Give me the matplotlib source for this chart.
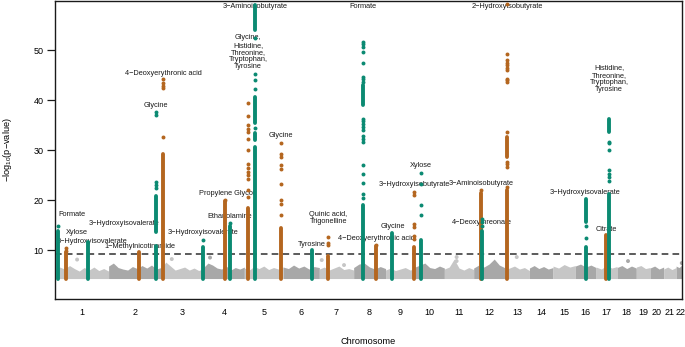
import numpy as np
import matplotlib.pyplot as plt

plt.rcParams['font.family'] = ['Liberation Sans', 'DejaVu Sans']
plt.rcParams['mathtext.default'] = 'regular'

chr_names = [str(i) for i in range(1, 23)]
chr_len = [246, 240, 194, 187, 178, 165, 157, 146, 135, 134, 134, 141,
           114, 108, 102, 95, 96, 88, 63, 62, 57, 40]

threshold = 9.2
band_floor = 4.3

# upper edge of the dense grey cloud, per chromosome
band_top = [
    [6.0, 6.6, 6.2, 6.9, 6.3, 5.8, 6.5, 6.0, 6.6, 5.9, 6.3, 5.8],
    [6.8, 7.4, 6.5, 6.2, 6.0, 6.7, 6.3, 6.9, 6.4, 7.0, 6.2, 6.5],
    [6.2, 7.6, 6.8, 6.0, 6.3, 6.6, 6.0, 6.4, 5.9, 6.3],
    [6.5, 7.4, 7.0, 6.4, 6.2, 6.8, 6.0, 6.5, 6.2, 6.6],
    [6.4, 6.0, 6.7, 6.3, 6.8, 6.1, 6.5, 6.2, 6.6],
    [6.6, 6.3, 7.0, 6.4, 6.8, 6.2, 6.7, 6.5],
    [6.2, 6.6, 6.0, 6.4, 6.8, 6.1, 6.3, 6.0],
    [6.5, 7.2, 7.4, 6.6, 6.2, 6.7, 6.3],
    [6.0, 6.4, 5.9, 6.2, 6.5, 6.0, 6.3],
    [6.6, 7.0, 7.4, 6.5, 6.3, 6.8, 6.4],
    [6.2, 6.6, 8.2, 6.4, 6.0, 6.5, 6.1],
    [6.4, 7.0, 6.6, 7.2, 8.2, 7.0, 6.5],
    [6.0, 6.4, 6.8, 6.2, 6.5, 5.9],
    [6.4, 6.9, 6.3, 6.7, 6.2, 6.5],
    [6.8, 6.4, 7.1, 6.6, 6.9],
    [6.8, 7.2, 6.6, 7.0, 6.5],
    [6.6, 6.2, 6.9, 6.4, 6.7],
    [6.5, 6.9, 6.3, 6.8, 6.4],
    [6.6, 6.9, 6.3, 6.5],
    [6.4, 6.8, 6.2, 6.6],
    [6.2, 6.6, 6.1, 6.5],
    [6.8, 6.5, 7.0, 6.6],
]

# isolated grey points above the cloud
bg_chrom = [1, 3, 4, 7, 7, 11, 11, 13, 18, 22]
bg_pos = [102, 49, 30, 11, 113, 56, 56, 56, 50, 26]
bg_val = [8.1, 8.2, 8.5, 8.0, 7.0, 8.6, 7.8, 8.6, 7.8, 7.4]

# significant loci: dense runs (lo, hi) and single dots
hit_chrom = [1, 1, 1, 2, 2, 3, 3, 4, 4, 5, 5, 5, 6, 7, 8, 8, 9, 9, 10, 12, 12, 13, 16, 17, 17]
hit_pos = [13, 51, 153, 140, 217, 8, 191, 100, 121, 17, 49, 166, 130, 41, 43, 101,
           31, 132, 27, 34, 37, 13, 49, 45, 61]
hit_runs = [
    [(4.3, 13.8)],
    [(4.3, 9.6)],
    [(4.3, 11.6)],
    [(4.3, 9.6)],
    [(4.3, 10.8), (13.6, 20.8)],
    [(4.3, 29.3)],
    [(4.3, 10.6)],
    [(4.3, 19.8)],
    [(4.3, 14.8)],
    [(4.3, 18.4)],
    [(4.3, 30.6), (32.0, 33.4), (35.4, 40.6), (54.0, 59.0)],
    [(4.3, 14.4)],
    [(4.3, 10.1)],
    [(4.3, 8.9)],
    [(4.3, 19.0), (39.0, 43.0)],
    [(4.3, 10.9)],
    [(4.3, 13.5)],
    [(4.3, 10.7)],
    [(4.3, 12.1)],
    [(4.3, 21.4)],
    [(4.3, 13.8)],
    [(4.3, 22.0), (28.6, 32.6)],
    [(4.3, 10.7), (15.7, 20.2)],
    [(4.3, 13.0)],
    [(4.3, 21.3), (33.6, 36.3)],
]
hit_dots = [
    [14.9],
    [9.9, 10.4],
    [],
    [],
    [22.4, 23.0, 23.6, 37.0, 37.6],
    [32.6, 42.4, 42.9, 43.4, 44.2],
    [12.1],
    [20.1],
    [15.5],
    [20.7, 22.0, 24.3, 25.0, 25.7, 26.5, 27.3, 30.1, 32.3, 33.6, 34.3, 35.0, 36.8, 39.5],
    [34.4, 42.2, 44.0, 45.2, 52.5],
    [17.0, 19.3, 20.0, 23.3, 26.3, 27.0, 28.7, 29.3, 31.5],
    [],
    [11.0, 11.5, 12.7],
    [20.4, 21.2, 23.5, 25.2, 27.1, 31.7, 32.2, 32.8, 34.0, 34.6, 35.2, 35.8, 36.2,
     43.7, 44.2, 44.7, 47.5, 49.7, 50.7, 51.2, 51.7],
    [11.1],
    [],
    [12.2, 12.8, 14.7, 15.3, 21.1, 21.7],
    [17.1, 19.0, 23.2, 25.5],
    [22.0],
    [14.8, 15.6, 16.3],
    [22.7, 26.7, 27.2, 27.7, 33.7, 43.7, 44.0, 44.3, 46.0, 46.5, 47.0, 47.5, 48.0, 49.3, 59.2],
    [12.4, 14.8],
    [],
    [23.9, 24.6, 25.3, 26.0, 30.1, 31.4, 31.7],
]

lab_text = ['Formate', 'Xylose', '3\u2212Hydroxyisovalerate', '3\u2212Hydroxyisovalerate',
            '1\u2212Methylnicotinamide', '4\u2212Deoxyerythronic acid', 'Glycine',
            '3\u2212Hydroxyisovalerate', 'Propylene Glycol', 'Ethanolamine',
            '3\u2212Aminoisobutyrate',
            'Glycine,\nHistidine,\nThreonine,\nTryptophan,\nTyrosine',
            'Glycine', 'Tyrosine', 'Quinic acid,\nTrigonelline', 'Formate',
            '4\u2212Deoxyerythronic acid', 'Glycine', 'Xylose', '3\u2212Hydroxyisobutyrate',
            '3\u2212Aminoisobutyrate', '4\u2212Deoxythreonate', '2\u2212Hydroxyisobutyrate',
            'Histidine,\nThreonine,\nTryptophan,\nTyrosine', '3\u2212Hydroxyisovalerate',
            'Citrate']
lab_x = [79, 102, 170, 317, 390, 495, 463, 678, 785, 801, 917, 884, 1035, 1177, 1251,
         1410, 1469, 1547, 1675, 1647, 1949, 1954, 2068, 2535, 2425, 2521]
lab_y = [17.2, 13.6, 11.8, 15.4, 10.8, 45.4, 39.0, 13.6, 21.4, 16.8, 58.8, 49.6, 33.0,
         11.2, 16.4, 58.8, 12.4, 14.8, 27.0, 23.2, 23.4, 15.6, 58.8, 44.3, 21.6, 14.2]

TEAL, BROWN = '#0b8a72', '#b4661f'
GREY_LIGHT, GREY_DARK = '#c6c6c6', '#a8a8a8'

starts = np.concatenate([[0], np.cumsum(chr_len)[:-1]])
mids = starts + np.array(chr_len) / 2

fig = plt.figure(figsize=(6.85, 3.47), dpi=100)
ax = fig.add_axes([55 / 685, 48 / 347, 627 / 685, 298 / 347])

for i, top in enumerate(band_top):
    xs = np.linspace(starts[i], starts[i] + chr_len[i], len(top))
    col = GREY_LIGHT if i % 2 == 0 else GREY_DARK
    ax.fill_between(xs, band_floor, top, color=col, lw=0, zorder=1)

bx = [starts[c - 1] + p for c, p in zip(bg_chrom, bg_pos)]
bc = [GREY_LIGHT if c % 2 else GREY_DARK for c in bg_chrom]
ax.scatter(bx, bg_val, s=8, c=bc, lw=0, zorder=1)

ax.axhline(threshold, color='0.25', lw=1.2, ls=(0, (4, 2.5)), zorder=2)

for t, x, y in zip(lab_text, lab_x, lab_y):
    ax.text(x, y, t, fontsize=5.3, ha='center', va='center', color='0.1',
            linespacing=1.05, zorder=3)

for k in range(len(hit_chrom)):
    x = starts[hit_chrom[k] - 1] + hit_pos[k]
    col = TEAL if k % 2 == 0 else BROWN
    for lo, hi in hit_runs[k]:
        ax.plot([x, x], [lo, hi], color=col, lw=2.8, solid_capstyle='round', zorder=4)
    if hit_dots[k]:
        ax.scatter([x] * len(hit_dots[k]), hit_dots[k], s=8, color=col, lw=0, zorder=4)

ax.set_xlim(0.9, 2869)
ax.set_ylim(0.2, 59.9)
ax.set_yticks([10, 20, 30, 40, 50])
ax.set_xticks(mids)
ax.set_xticklabels(chr_names)
ax.tick_params(axis='y', length=5.8, width=0.9, pad=2.5, labelsize=6.5, color='0.1')
ax.tick_params(axis='x', length=0, pad=6.5, labelsize=6.5)
for s in ax.spines.values():
    s.set_linewidth(1.0)
    s.set_color('0.1')

fig.text(8 / 685, 1 - 150 / 347, '\u2212log$_{10}$(p\u2212value)', rotation=90,
         ha='center', va='center', fontsize=6.6)
fig.text(368.5 / 685, 1 - 341 / 347, 'Chromosome', ha='center', va='center', fontsize=6.6)

fig.savefig('out.png', dpi=100)
